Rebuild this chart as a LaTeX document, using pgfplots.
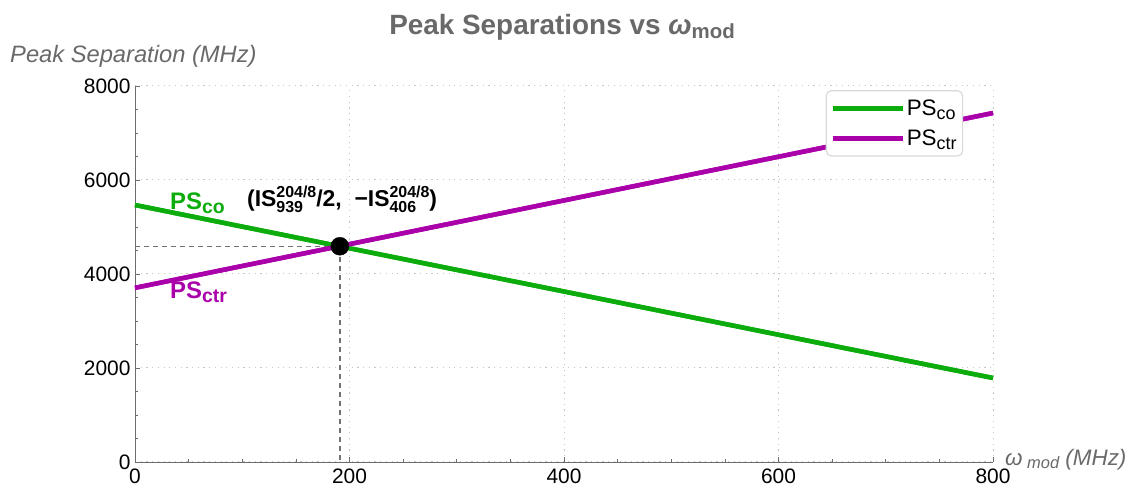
\documentclass[border=0pt]{standalone}
\usepackage{fontspec}
\setmainfont{Liberation Sans}
\usepackage{pgfplots}
\pgfplotsset{compat=1.18}
\definecolor{cgreen}{RGB}{12,172,12}
\definecolor{cpurple}{RGB}{170,0,170}
\definecolor{lblgray}{RGB}{105,105,105}
% #1 size, #2 lower, #3 text
\newcommand\lo[3]{\raisebox{-#2}{\fontsize{#1}{#1}\selectfont #3}}
\newcommand\supsub[2]{\leavevmode\setbox0\hbox{\raisebox{9.5bp}{\fontsize{16}{16}\selectfont #1}}\setbox2\hbox{\raisebox{-6bp}{\fontsize{16}{16}\selectfont #2}}\ifdim\wd0>\wd2 \rlap{\box2}\box0\else\rlap{\box0}\box2\fi}
\begin{document}
\begin{tikzpicture}
\begin{axis}[
  scale only axis, width=858bp, height=376bp,
  xmin=0, xmax=800, ymin=0, ymax=8000,
  axis lines=left, axis line style={-, draw=gray!85!black, line width=0.8bp},
  xtick={0,200,...,800}, ytick={0,2000,...,8000},
  minor x tick num=3, minor y tick num=3,
  tick align=inside, tick style={gray!85!black, line width=0.7bp},
  major tick length=5bp, minor tick length=3bp,
  grid=major, major grid style={dash pattern=on 1.2bp off 4.5bp, gray!45, line width=1bp},
  ticklabel style={font=\fontsize{21}{24}\selectfont, text=black},
  /pgf/number format/assume math mode=true,
  /pgf/number format/1000 sep={},
  xticklabel style={yshift=-3bp},
  yticklabel style={xshift=-1bp},
  legend style={at={(rel axis cs:0.805,0.989)}, anchor=north west,
    draw=gray!30, rounded corners=5bp, line width=1.2bp,
    font=\fontsize{22.5}{24}\selectfont, inner xsep=4bp, inner ysep=7bp,
    row sep=9bp},
  legend cell align=left,
  legend image code/.code={\draw[#1, line width=4.5bp] (0bp,0bp) -- (60bp,0bp); \path (0bp,0bp) -- (70bp,0bp);},
  clip=false,
]
\addplot[cgreen, line width=4.5bp] coordinates {(0,5468) (800,1787)};
\addlegendentry{PS\lo{18}{4bp}{co}}
\addplot[cpurple, line width=4.5bp] coordinates {(0,3705) (800,7425)};
\addlegendentry{PS\lo{18}{4bp}{ctr}}
\addplot[gray!90!black, dash pattern=on 5bp off 4bp, line width=1.4bp, forget plot] coordinates {(0,4590) (191,4590) (191,0)};
\addplot[cgreen, line width=4.5bp, forget plot] coordinates {(0,5468) (800,1787)};
\addplot[cpurple, line width=4.5bp, forget plot] coordinates {(0,3705) (800,7425)};
\addplot[only marks, mark=*, mark size=9bp, black, forget plot] coordinates {(191,4590)};
\node[anchor=base west, text=cgreen, font=\fontsize{24}{28}\selectfont\bfseries, inner sep=0pt] at (axis cs:32.6,5362) {PS\lo{19.5}{4bp}{co}};
\node[anchor=base west, text=cpurple, font=\fontsize{24}{28}\selectfont\bfseries, inner sep=0pt] at (axis cs:32.6,3470) {PS\lo{19.5}{4bp}{ctr}};
\node[anchor=base west, text=black, font=\fontsize{23}{26}\selectfont\bfseries, inner sep=0pt] at (axis cs:104.4,5426) {(IS\supsub{204/8}{939}/2,\ \ −IS\supsub{204/8}{406})};
\node[anchor=base west, text=lblgray, font=\fontsize{23.8}{26}\selectfont\itshape, inner sep=0pt] at ([xshift=-125bp, yshift=23bp]rel axis cs:0,1) {Peak Separation (MHz)};
\node[anchor=base west, text=lblgray, font=\fontsize{22.5}{26}\selectfont\itshape, inner sep=0pt] at ([xshift=12bp, yshift=-4bp]rel axis cs:1,0) {ω\lo{16.5}{3bp}{ mod} (MHz)};
\node[anchor=base, text=lblgray, font=\fontsize{28}{30}\selectfont\bfseries, inner sep=0pt] at ([xshift=-2bp, yshift=51bp]rel axis cs:0.5,1) {Peak Separations vs {\itshape ω}\lo{20.5}{4bp}{mod}};
\coordinate (sw) at (rel axis cs:0,0);
\coordinate (ne) at (rel axis cs:1,1);
\end{axis}
\pgfresetboundingbox
\path ([shift={(-135bp,-25bp)}]sw) rectangle ([shift={(140bp,86bp)}]ne);
\end{tikzpicture}
\end{document}
